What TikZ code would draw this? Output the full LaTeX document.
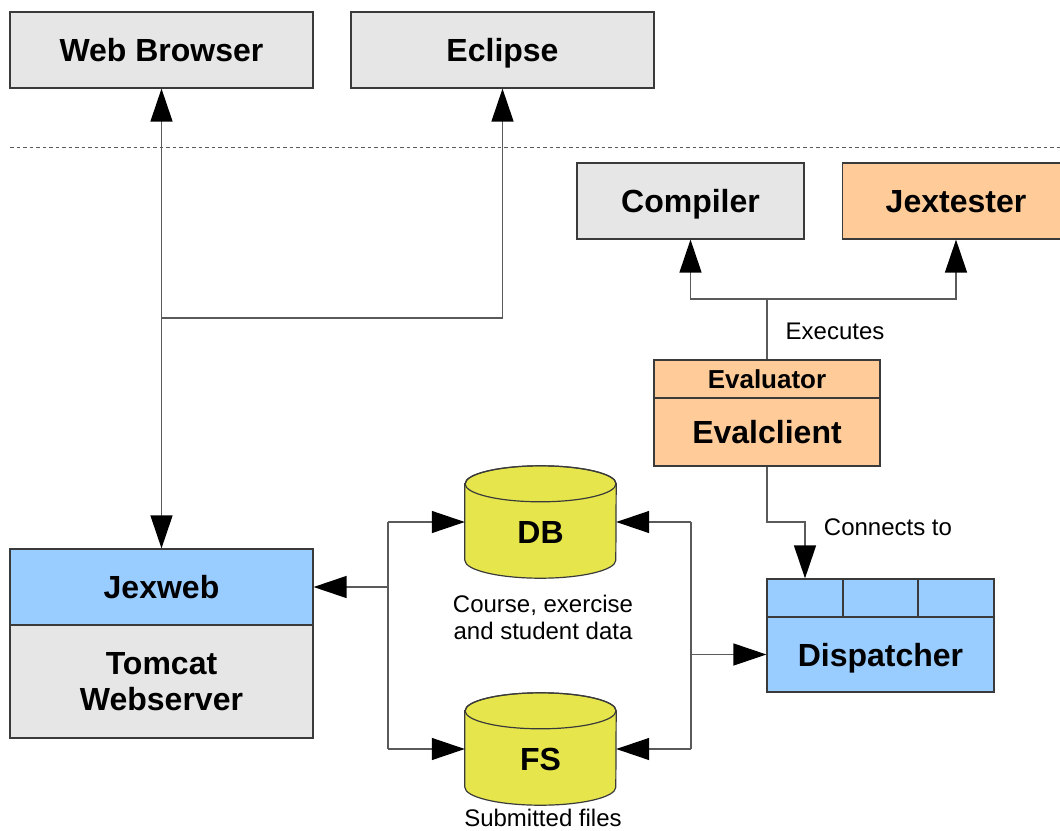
\documentclass[tikz,border=0pt]{standalone}
\usepackage{fontspec}
\setmainfont{Liberation Sans}
\usetikzlibrary{arrows.meta}
\definecolor{gfill}{HTML}{E6E6E6}
\definecolor{ofill}{HTML}{FFCC99}
\definecolor{bfill}{HTML}{99CCFF}
\definecolor{yfill}{HTML}{E6E64C}
\definecolor{bord}{HTML}{3A3A3A}
\definecolor{conn}{HTML}{5A5A5A}
\tikzset{
  box/.style={draw=bord, line width=1.2pt, inner sep=0pt, font=\fontsize{32}{36}\selectfont\bfseries, text height=23pt, text depth=0pt},
  mbox/.style={draw=bord, line width=1.2pt, inner sep=0pt, font=\fontsize{32}{36}\selectfont\bfseries, align=center},
  cylbox/.style={inner sep=0pt, minimum width=151pt, minimum height=76pt},
  lbl/.style={font=\fontsize{24}{27}\selectfont, align=center, inner sep=0pt},
  con/.style={draw=conn, line width=1.3pt},
  tip/.style={Triangle[length=33pt,width=22pt,color=black]},
  arr/.style={con, -{Triangle[length=33pt,width=22pt,color=black]}},
  arrb/.style={con, {Triangle[length=33pt,width=22pt,color=black]}-{Triangle[length=33pt,width=22pt,color=black]}},
}
\begin{document}
\begin{tikzpicture}[x=1pt,y=-1pt]
\useasboundingbox (0,0) rectangle (1060,830);
% top boxes
\node[box, fill=gfill, minimum width=303pt, minimum height=76pt] (wb) at (161.5,50) {Web Browser};
\node[box, fill=gfill, minimum width=303pt, minimum height=76pt] (ecl) at (502.5,50) {Eclipse};
% dashed separator
\draw[draw=conn, line width=1pt, dash pattern=on 3.5pt off 3pt] (10,147) -- (1060,147);
% compiler / jextester
\node[box, fill=gfill, minimum width=227pt, minimum height=76pt] (comp) at (690.5,201) {Compiler};
\node[box, fill=ofill, minimum width=227pt, minimum height=76pt] (jt) at (956,201) {Jextester};
% evaluator
\node[box, fill=ofill, minimum width=226pt, minimum height=38pt, font=\fontsize{26}{30}\selectfont\bfseries, text height=18.6pt] (evr) at (767,379) {Evaluator};
\node[box, fill=ofill, minimum width=226pt, minimum height=68pt] (evc) at (767,432) {Evalclient};
% jexweb / tomcat
\node[box, fill=bfill, minimum width=303pt, minimum height=76pt] (jex) at (161.5,587) {Jexweb};
\node[mbox, fill=gfill, minimum width=303pt, minimum height=113pt] (tom) at (161.5,681.5) {Tomcat\\[0.5pt]Webserver};
% dispatcher
\node[box, fill=bfill, minimum width=76pt, minimum height=38pt] (dc1) at (805,598) {};
\node[box, fill=bfill, minimum width=75pt, minimum height=38pt] (dc2) at (880.5,598) {};
\node[box, fill=bfill, minimum width=76pt, minimum height=38pt] (dc3) at (956,598) {};
\node[box, fill=bfill, minimum width=227pt, minimum height=75pt] (disp) at (880.5,654.5) {Dispatcher};
% cylinders
\node[cylbox] (db) at (540.5,522) {};
\node[cylbox] (fs) at (540.5,749) {};
\foreach \c in {db,fs}{
  \filldraw[fill=yfill, draw=bord, line width=1.2pt] (\c.north west) -- (\c.south west)
    arc[start angle=180, end angle=360, x radius=75.5pt, y radius=18pt]
    -- (\c.north east)
    arc[start angle=0, end angle=180, x radius=75.5pt, y radius=18pt] -- cycle;
  \draw[draw=bord, line width=1.2pt] (\c.north) ellipse[x radius=75.5pt, y radius=18pt];
}
\node[font=\fontsize{32}{36}\selectfont\bfseries, inner sep=0pt] (dbt) at ([yshift=-10pt]db.center) {DB};
\node[font=\fontsize{32}{36}\selectfont\bfseries, inner sep=0pt] (fst) at ([yshift=-10pt]fs.center) {FS};
\node[lbl] (dbl) at (543,617) {Course, exercise\\and student data};
\node[lbl] (fsl) at (543,817.5) {Submitted files};
% connectors top
\draw[arrb] (wb.south) -- (jex.north);
\coordinate (j1) at (161.5,318);
\draw[arr] (j1) -| (ecl.south);
% executes
\coordinate (ex) at (767,299);
\draw[con] (evr.north) -- (ex);
\draw[arr] (ex) -| (comp.south);
\draw[arr] (ex) -| (jt.south);
\node[lbl] (exl) at (835,331) {Executes};
% connects to
\coordinate (c1) at (767,522);
\draw[arr] (evc.south) -- (c1) -| (dc1.north);
\node[lbl] (ctl) at (888,527) {Connects to};
% left bus
\coordinate (lb1) at (388,522);
\coordinate (lb2) at (388,749);
\coordinate (lm) at (388,587);
\draw[con] (lb1) -- (lb2);
\draw[arr] (lb1) -- (db.west);
\draw[arr] (lb2) -- (fs.west);
\draw[arr] (lm) -- (jex.east);
% right bus
\coordinate (rb1) at (691,522);
\coordinate (rb2) at (691,749);
\coordinate (rm) at (691,654.5);
\draw[con] (rb1) -- (rb2);
\draw[arr] (rb1) -- (db.east);
\draw[arr] (rb2) -- (fs.east);
\draw[arr] (rm) -- (disp.west);
\end{tikzpicture}
\end{document}
